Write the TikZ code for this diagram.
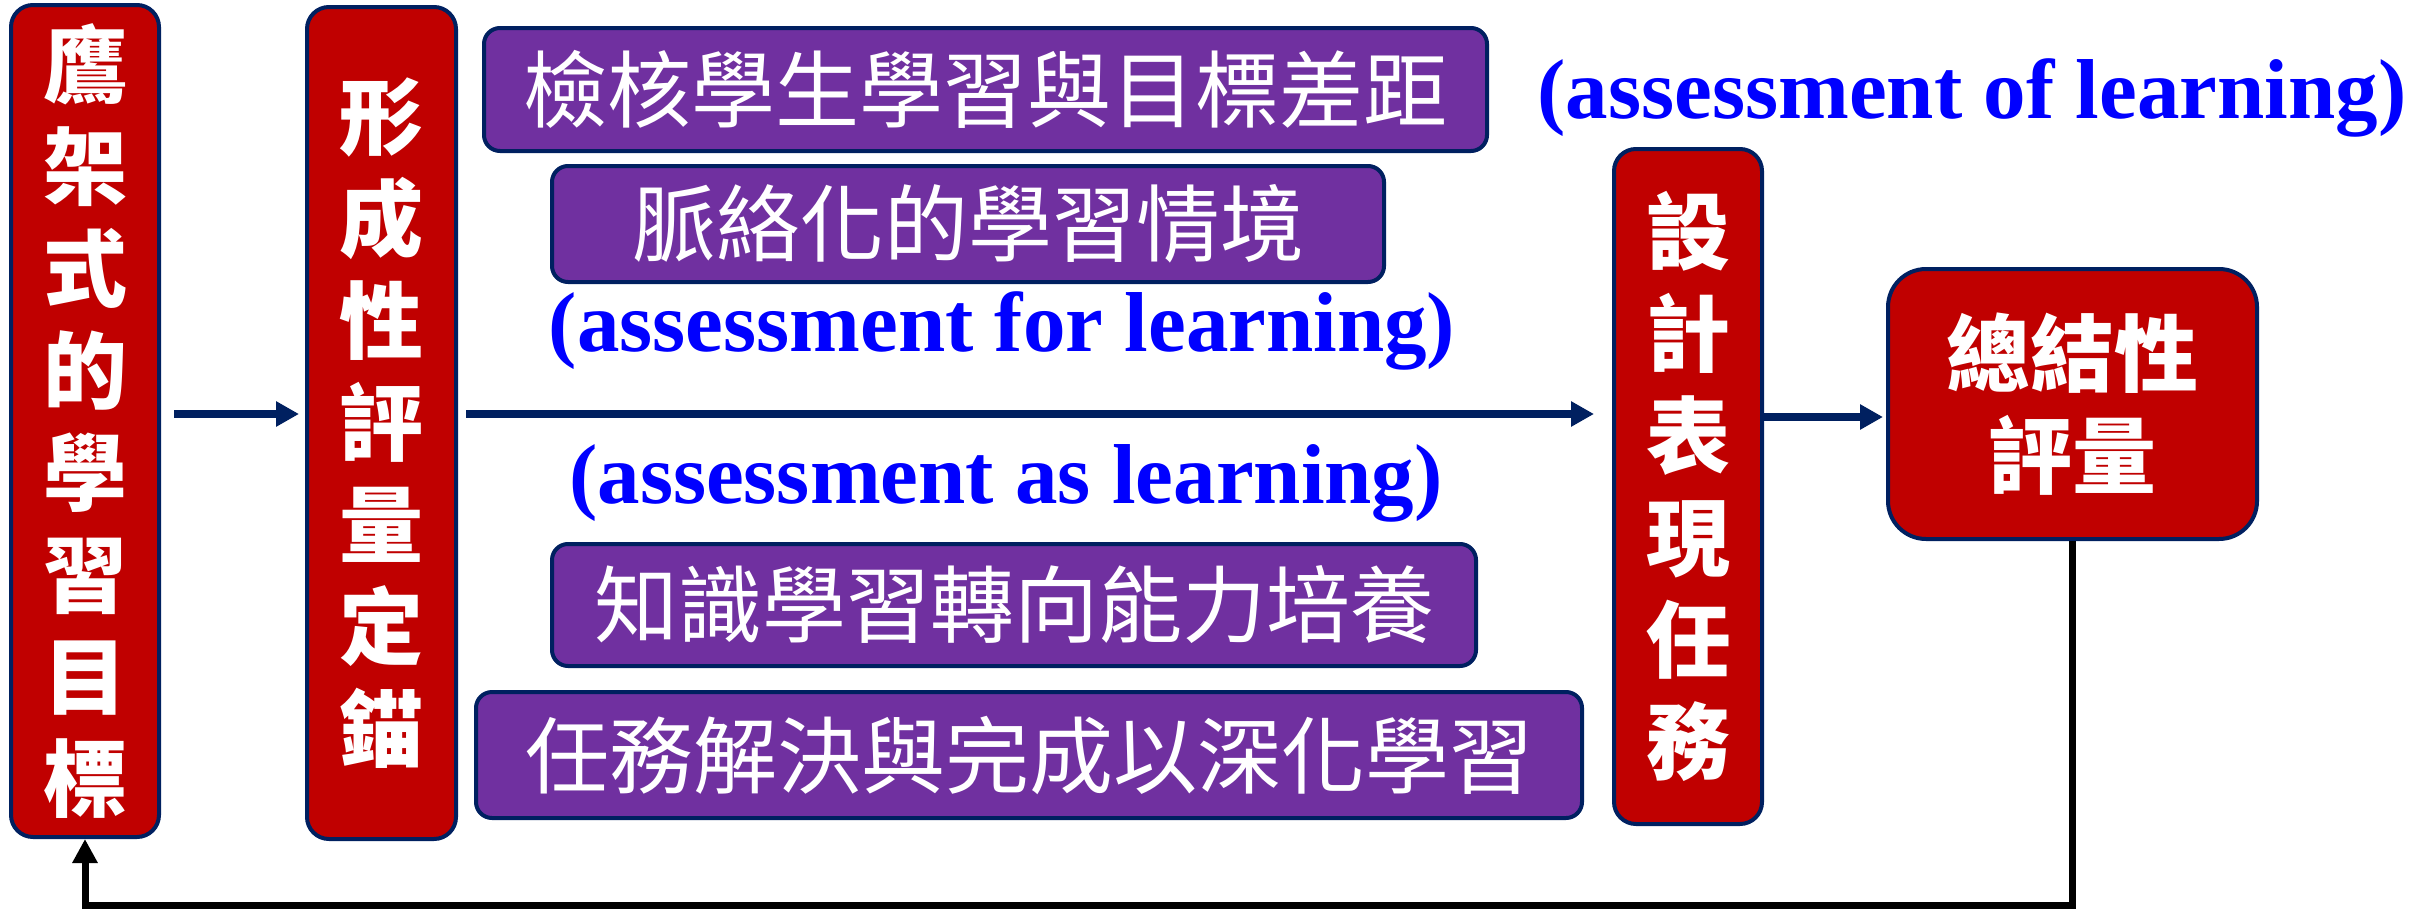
\documentclass[tikz,border=0pt]{standalone}
\usepackage{fontspec}
\setmainfont{Liberation Serif}
\newfontfamily\cjk{Noto Sans CJK TC}
\usetikzlibrary{arrows.meta}
\definecolor{navy}{HTML}{002060}
\definecolor{boxred}{HTML}{C00000}
\definecolor{boxpurple}{HTML}{7030A0}
\begin{document}
\begin{tikzpicture}[x=1pt,y=-1pt,
  redbox/.style={draw=navy, line width=4pt, fill=boxred, rounded corners=22pt,
    text=white, inner sep=0pt, align=center,
    font=\cjk\bfseries\fontsize{84}{102}\selectfont},
  purplebox/.style={draw=navy, line width=4pt, fill=boxpurple, rounded corners=16pt,
    text=white, inner sep=0pt, font=\cjk\fontsize{84}{84}\selectfont},
  bluelabel/.style={text=blue, inner sep=0pt, font=\bfseries\fontsize{85}{90}\selectfont},
  arr/.style={draw=navy, line width=8pt, -{Triangle[length=23pt,width=24pt]}},
  backarr/.style={draw=black, line width=7pt, line join=miter, -{Triangle[length=24pt,width=24pt]}}
]
\useasboundingbox (0,0) rectangle (2430,910);

% red boxes
\node[redbox, minimum width=148pt, minimum height=832pt] (goal) at (85,421)
  {鷹\\架\\式\\的\\學\\習\\目\\標};
\node[redbox, minimum width=149pt, minimum height=832pt] (anchor) at (381.5,423)
  {形\\成\\性\\評\\量\\定\\錨};
\node[redbox, minimum width=148pt, minimum height=675pt] (task) at (1688,486.5)
  {設\\計\\表\\現\\任\\務};
\node[redbox, rounded corners=38pt, minimum width=369pt, minimum height=270pt] (summ) at (2072.5,404)
  {總結性\\評量};

% purple boxes
\node[purplebox, minimum width=1003pt, minimum height=123pt] (p1) at (985.5,89.5) {檢核學生學習與目標差距};
\node[purplebox, minimum width=832pt, minimum height=116pt] (p2) at (968,224) {脈絡化的學習情境};
\node[purplebox, minimum width=924pt, minimum height=122pt] (p3) at (1014,605) {知識學習轉向能力培養};
\node[purplebox, minimum width=1106pt, minimum height=126pt] (p4) at (1029,755) {任務解決與完成以深化學習};

% blue labels
\node[bluelabel] (lof) at (1972,98) {(assessment of learning)};
\node[bluelabel] (lfor) at (1002,331) {(assessment for learning)};
\node[bluelabel] (las) at (1006,483) {(assessment as learning)};

% connectors
\coordinate (axis) at (0,414);
\coordinate (axis2) at (0,417);
\coordinate (bottom) at (0,905);
\draw[arr, shorten <=13pt, shorten >=6pt] (goal.east |- axis) -- (anchor.west |- axis);
\draw[arr, shorten <=8pt, shorten >=18pt] (anchor.east |- axis) -- (task.west |- axis);
\draw[arr, shorten >=3pt] (task.east |- axis2) -- (summ.west |- axis2);
\draw[backarr] (summ.south) -- (summ.south |- bottom) -- (goal.south |- bottom) -- (goal.south);
\end{tikzpicture}
\end{document}
